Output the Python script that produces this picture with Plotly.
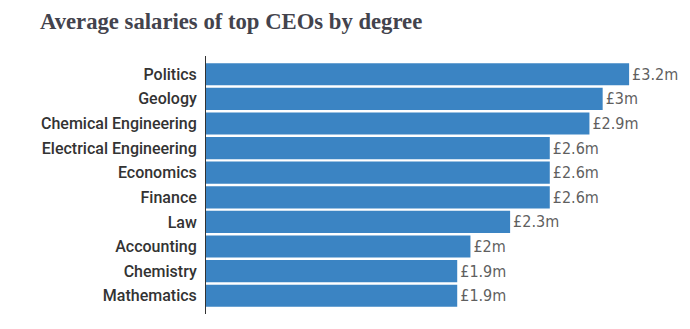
import plotly.graph_objects as go

categories = ["Politics", "Geology", "Chemical Engineering", "Electrical Engineering",
              "Economics", "Finance", "Law", "Accounting", "Chemistry", "Mathematics"]
salaries_m = [3.2, 3.0, 2.9, 2.6, 2.6, 2.6, 2.3, 2.0, 1.9, 1.9]
value_labels = ["£3.2m", "£3m", "£2.9m", "£2.6m", "£2.6m", "£2.6m", "£2.3m", "£2m", "£1.9m", "£1.9m"]

value_font = "DejaVu Sans Condensed, sans-serif"
label_font = "Roboto, DejaVu Sans Condensed, sans-serif"

fig = go.Figure(go.Bar(
    x=salaries_m,
    y=categories,
    orientation="h",
    text=value_labels,
    textposition="outside",
    cliponaxis=False,
    constraintext="none",
    textfont=dict(family=value_font, size=16, color="#5f5f5f"),
    marker=dict(color="#3B84C3", line=dict(width=0)),
    hoverinfo="skip",
))

fig.update_layout(
    width=690, height=329,
    margin=dict(l=206, r=8, t=56, b=15),
    paper_bgcolor="white",
    plot_bgcolor="white",
    bargap=0.1,
    showlegend=False,
    title=dict(
        text="<b>Average salaries of top CEOs by degree</b>",
        font=dict(family="Liberation Serif, DejaVu Serif, serif", size=22.7, color="#43434d"),
        xref="container", x=40 / 690, xanchor="left",
        yref="container", y=1 - 21 / 329, yanchor="middle",
    ),
    xaxis=dict(range=[0, 3.6], showgrid=False, zeroline=False, showticklabels=False,
               showline=False, ticks=""),
    yaxis=dict(
        categoryorder="array", categoryarray=categories,
        range=[9.74, -0.74],
        showgrid=False, zeroline=False,
        showline=True, linecolor="#333333", linewidth=1,
        ticks="", ticklabelstandoff=5,
        tickfont=dict(family=label_font, size=16, color="#333333", weight=500),
    ),
)

fig.write_html("out.html")
